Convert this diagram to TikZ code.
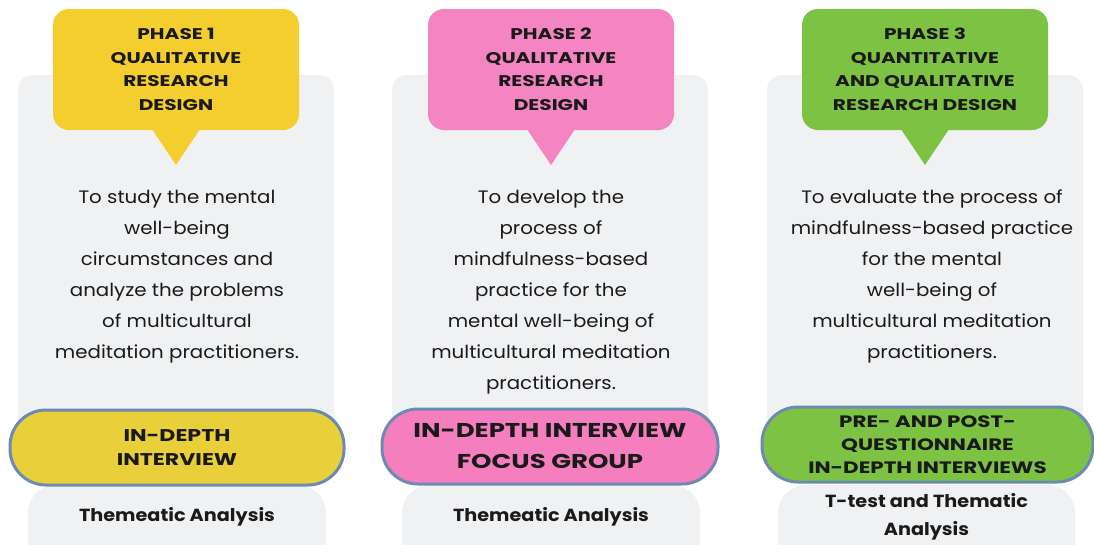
\documentclass[tikz,border=0pt]{standalone}
\usepackage{fontspec}
\setmainfont{Poppins}
\newfontfamily\headfont[FakeStretch=1.3]{Poppins}
\newfontfamily\bodyfont[FakeStretch=1.1]{Poppins}
\usetikzlibrary{calc}
\definecolor{panelgrey}{HTML}{F0F1F3}
\definecolor{ink}{HTML}{1A1A1A}
\definecolor{rim}{HTML}{6D8AB2}
\definecolor{yelA}{HTML}{F4CE2E}
\definecolor{yelB}{HTML}{E9D03B}
\definecolor{pinkA}{HTML}{F585C2}
\definecolor{pinkB}{HTML}{F57EBF}
\definecolor{greenA}{HTML}{7DC242}
\definecolor{greenB}{HTML}{7DC242}
\tikzset{
  panel/.style={fill=panelgrey, rounded corners=15pt, minimum width=316pt, minimum height=372pt, inner sep=0pt},
  bubble/.style={rounded corners=16pt, minimum width=246pt, minimum height=121pt, inner sep=0pt,
    align=center, text=ink, font=\headfont\bfseries\fontsize{15.5}{23.5}\selectfont},
  bodytext/.style={align=center, text=ink, font=\bodyfont\fontsize{18}{31}\selectfont, inner sep=0pt},
  pill/.style={draw=rim, line width=3pt, rounded corners=36pt, minimum height=75pt, inner sep=0pt,
    align=center, text=ink},
  foot/.style={fill=panelgrey, rounded corners=28pt, minimum width=298pt, minimum height=90pt, inner sep=0pt},
  foottext/.style={align=center, text=ink, font=\bodyfont\bfseries\fontsize{17.5}{28}\selectfont, inner sep=0pt},
}
\begin{document}
\begin{tikzpicture}[x=1pt, y=-1pt]
\path[use as bounding box, fill=white] (0,0) rectangle (1094,544);
\clip (0,0) rectangle (1094,544);

% grey column panels
\node[panel] (p1) at (176,261) {};
\node[panel] (p2) at (550,261) {};
\node[panel] (p3) at (925,261) {};

% footer lozenges
\node[foot] (f1) at (177,530) {};
\node[foot] (f2) at (551,530) {};
\node[foot, minimum width=297pt] (f3) at (926.5,530) {};

% phase callouts
\node[bubble, fill=yelA] (b1) at (176,69.5) {PHASE 1\\QUALITATIVE\\RESEARCH\\DESIGN};
\node[bubble, fill=pinkA] (b2) at (551,69.5) {PHASE 2\\QUALITATIVE\\RESEARCH\\DESIGN};
\node[bubble, fill=greenA] (b3) at (925,69.5) {PHASE 3\\QUANTITATIVE\\AND QUALITATIVE\\RESEARCH DESIGN};
\coordinate (t1) at (176,165);
\coordinate (t2) at (551,165);
\coordinate (t3) at (925,165);
\fill[yelA] ($(b1.south)+(-24,-1)$) -- (t1) -- ($(b1.south)+(24,-1)$) -- cycle;
\fill[pinkA] ($(b2.south)+(-24,-1)$) -- (t2) -- ($(b2.south)+(24,-1)$) -- cycle;
\fill[greenA] ($(b3.south)+(-24,-1)$) -- (t3) -- ($(b3.south)+(24,-1)$) -- cycle;

% aims
\node[bodytext] (a1) at (177,276.5) {To study the mental\\well-being\\circumstances and\\analyze the problems\\of multicultural\\meditation practitioners.};
\node[bodytext] (a2) at (551,292) {To develop the\\process of\\mindfulness-based\\practice for the\\mental well-being of\\multicultural meditation\\practitioners.};
\node[bodytext] (a3) at (932,276.5) {To evaluate the process of\\mindfulness-based practice\\for the mental\\well-being of\\multicultural meditation\\practitioners.};

% methods
\node[pill, fill=yelB, minimum width=334pt, font=\headfont\bfseries\fontsize{17}{24}\selectfont] (m1) at (177,447.5) {IN-DEPTH\\INTERVIEW};
\node[pill, fill=pinkB, minimum width=336pt, font=\headfont\bfseries\fontsize{20}{31}\selectfont] (m2) at (550,446.5) {IN-DEPTH INTERVIEW\\FOCUS GROUP};
\node[pill, fill=greenB, minimum width=331pt, font=\headfont\bfseries\fontsize{16.5}{23}\selectfont] (m3) at (927.5,444.5) {PRE- AND POST-\\QUESTIONNAIRE\\IN-DEPTH INTERVIEWS};

% analysis
\node[foottext] (x1) at (177,517) {Themeatic Analysis};
\node[foottext] (x2) at (551,517) {Themeatic Analysis};
\node[foottext] (x3) at (926.5,517) {T-test and Thematic\\Analysis};
\end{tikzpicture}
\end{document}
